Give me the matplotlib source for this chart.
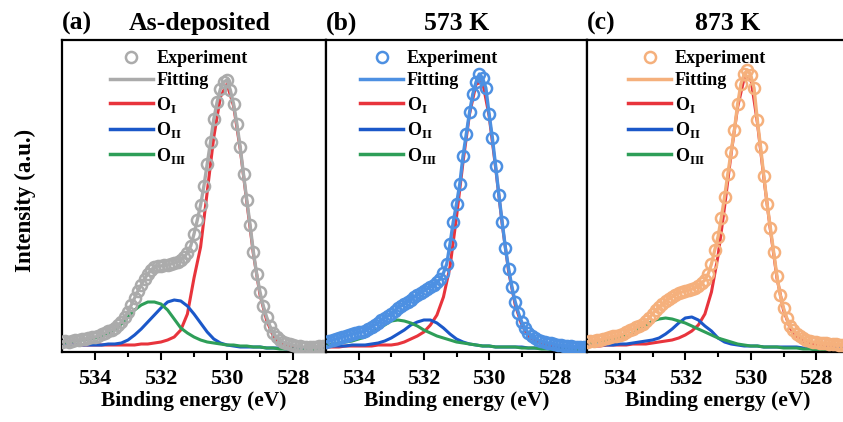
import numpy as np
import matplotlib
matplotlib.use('Agg')
import matplotlib.pyplot as plt
from matplotlib.lines import Line2D

plt.rcParams['font.family'] = ['Liberation Serif', 'DejaVu Serif']
plt.rcParams['font.weight'] = 'bold'
plt.rcParams['mathtext.fontset'] = 'custom'
plt.rcParams['mathtext.rm'] = 'Liberation Serif:bold'
plt.rcParams['mathtext.bf'] = 'Liberation Serif:bold'

# energia de ligacao (eV), grade dos pontos experimentais e das componentes
energia_exp = np.round(np.arange(535.0, 526.95, -0.1), 1)
energia_comp = np.round(np.arange(535.0, 526.95, -0.2), 1)

# (a) As-deposited
exp_a = [10, 11, 10, 11, 12, 12, 13, 13, 14, 15,
         15, 16, 18, 19, 21, 22, 24, 27, 30, 35,
         40, 47, 54, 61, 67, 73, 78, 82, 85, 86,
         86, 87, 87, 88, 89, 90, 92, 95, 99, 106,
         118, 132, 147, 166, 188, 210, 233, 250, 263, 270,
         272, 262, 248, 228, 205, 178, 152, 127, 100, 78,
         60, 46, 35, 26, 19, 15, 12, 10, 9, 8,
         7, 6, 6, 5, 5, 5, 5, 5, 6, 6, 6]
o1_a = [7, 7, 7, 7, 7, 7, 7, 7, 7, 7,
        7, 7, 8, 8, 9, 10, 12, 15, 22, 38,
        74, 105, 160, 215, 255, 268, 246, 203, 150, 98,
        57, 32, 16, 9, 6, 5, 4, 4, 4, 4, 4]
o2_a = [7, 7, 7, 7, 7, 7, 7, 8, 8, 9,
        12, 17, 23, 30, 37, 44, 50, 52, 51, 46,
        38, 29, 20, 13, 9, 7, 6, 5, 5, 5,
        5, 4, 4, 4, 3, 3, 3, 3, 3, 3, 3]
o3_a = [9, 10, 11, 12, 13, 14, 16, 19, 22, 28,
        35, 42, 47, 50, 50, 48, 42, 33, 24, 19,
        15, 12, 10, 9, 8, 7, 7, 6, 6, 5,
        5, 4, 4, 3, 3, 3, 2, 2, 2, 2, 2]

# (b) 573 K
exp_b = [10, 11, 12, 13, 14, 15, 16, 17, 18, 19,
         20, 20, 21, 23, 25, 27, 29, 32, 34, 36,
         38, 41, 44, 46, 48, 50, 52, 55, 57, 59,
         61, 63, 65, 67, 70, 73, 79, 88, 108, 130,
         148, 168, 196, 218, 240, 258, 270, 278, 274, 264,
         238, 214, 186, 157, 130, 104, 83, 65, 50, 39,
         30, 24, 19, 16, 14, 12, 11, 10, 9, 9,
         8, 7, 7, 6, 6, 6, 5, 5, 5, 5, 5]
o1_b = [5, 5, 5, 6, 6, 6, 6, 6, 7, 7,
        7, 8, 10, 13, 16, 20, 27, 37, 55, 85,
        135, 190, 238, 268, 270, 236, 184, 128, 80, 47,
        27, 16, 11, 8, 7, 6, 5, 5, 5, 5, 5]
o2_b = [6, 6, 6, 6, 7, 7, 7, 8, 9, 11,
        14, 18, 22, 27, 30, 32, 32, 29, 24, 18,
        13, 10, 8, 7, 6, 6, 5, 5, 5, 5,
        5, 4, 4, 4, 4, 4, 4, 4, 4, 4, 4]
o3_b = [7, 8, 9, 10, 11, 13, 15, 19, 23, 27,
        31, 32, 31, 29, 26, 22, 19, 16, 14, 12,
        10, 9, 8, 7, 6, 6, 5, 5, 5, 5,
        4, 4, 4, 3, 3, 2, 2, 2, 2, 2, 2]

# (c) 873 K
exp_c = [10, 11, 11, 12, 12, 13, 14, 15, 16, 16,
         17, 18, 20, 22, 23, 25, 26, 28, 31, 34,
         38, 42, 45, 48, 51, 53, 55, 57, 59, 60,
         61, 62, 63, 64, 66, 69, 72, 78, 88, 102,
         115, 134, 155, 178, 200, 222, 248, 268, 278, 282,
         277, 264, 232, 205, 176, 148, 124, 100, 76, 57,
         44, 34, 26, 22, 18, 16, 14, 12, 11, 10,
         10, 9, 9, 9, 8, 8, 8, 7, 7, 7, 7]
o1_c = [6, 6, 6, 7, 7, 7, 7, 8, 8, 8,
        9, 10, 11, 12, 14, 17, 21, 27, 38, 60,
        96, 145, 198, 245, 274, 274, 230, 174, 122, 74,
        42, 24, 16, 11, 8, 7, 6, 6, 5, 5, 5]
o2_c = [7, 7, 7, 7, 7, 8, 8, 9, 10, 11,
        12, 14, 18, 23, 29, 34, 35, 32, 26, 21,
        14, 10, 8, 7, 6, 6, 6, 5, 5, 5,
        5, 5, 5, 4, 4, 4, 4, 4, 4, 4, 4]
o3_c = [9, 10, 11, 12, 13, 14, 16, 19, 23, 27,
        31, 33, 34, 33, 31, 29, 26, 23, 20, 17,
        14, 12, 10, 8, 7, 6, 6, 5, 5, 5,
        4, 4, 4, 3, 3, 2, 2, 2, 2, 2, 2]

paineis = [
    ('(a)', 'As-deposited', exp_a, o1_a, o2_a, o3_a, '#ababab'),
    ('(b)', '573 K', exp_b, o1_b, o2_b, o3_b, '#4d90e2'),
    ('(c)', '873 K', exp_c, o1_c, o2_c, o3_c, '#f5b07c'),
]
cor_o1 = '#e8343c'
cor_o2 = '#1b58c9'
cor_o3 = '#2e9e58'

# posicoes dos eixos em pixels (esquerda, largura)
pos_x = [(62, 264), (326, 261), (587, 262)]
leg_x = [0.18, 0.13, 0.157]
tit_x = [0.52, 0.5, 0.538]

fig = plt.figure(figsize=(8.43, 4.22), dpi=100)
W, H = 843, 422

for i, (letra, titulo, exp, o1, o2, o3, cor) in enumerate(paineis):
    x0, w = pos_x[i]
    ax = fig.add_axes([x0 / W, (H - 352) / H, w / W, 312 / H])

    ax.plot(energia_comp, o1, color=cor_o1, lw=2.2, zorder=2)
    ax.plot(energia_comp, o2, color=cor_o2, lw=2.2, zorder=2)
    ax.plot(energia_comp, o3, color=cor_o3, lw=2.2, zorder=2)
    ax.plot(energia_exp, exp, color=cor, lw=2.4, zorder=3)
    ax.plot(energia_exp, exp, 'o', ms=8, mfc='none', mec=cor, mew=1.8, zorder=4)

    ax.set_xlim(535, 527)
    ax.set_ylim(0, 312)
    ax.set_xticks([534, 532, 530, 528])
    ax.set_xticks([533, 531, 529], minor=True)
    ax.set_yticks([])
    ax.tick_params(axis='x', which='major', direction='out', length=6, width=1.5,
                   labelsize=16, pad=6)
    ax.tick_params(axis='x', which='minor', direction='out', length=3.5, width=1.5)
    for s in ax.spines.values():
        s.set_linewidth(1.6)
    ax.set_xlabel('Binding energy (eV)', fontsize=15.5, fontweight='bold', labelpad=2)

    ax.text(0, 1.032, letra, transform=ax.transAxes, fontsize=18.5, fontweight='bold',
            ha='left', va='baseline')
    ax.text(tit_x[i], 1.032, titulo, transform=ax.transAxes, fontsize=18.5,
            fontweight='bold', ha='center', va='baseline')

    handles = [
        Line2D([], [], ls='none', marker='o', ms=8, mfc='none', mec=cor, mew=1.8),
        Line2D([], [], color=cor, lw=2.5),
        Line2D([], [], color=cor_o1, lw=2.5),
        Line2D([], [], color=cor_o2, lw=2.5),
        Line2D([], [], color=cor_o3, lw=2.5),
    ]
    nomes = ['Experiment', 'Fitting', r'O$_\mathrm{I}$', r'O$_\mathrm{II}$', r'O$_\mathrm{III}$']
    ax.legend(handles, nomes, loc='upper left', bbox_to_anchor=(leg_x[i], 0.968),
              frameon=False, fontsize=13, handlelength=2.4, handletextpad=0.2,
              labelspacing=0.3, borderpad=0, borderaxespad=0)

fig.text(25 / W, 1 - 200 / H, 'Intensity (a.u.)', rotation=90, fontsize=16.5,
         fontweight='bold', ha='center', va='center')

fig.savefig('out.png', dpi=100)
